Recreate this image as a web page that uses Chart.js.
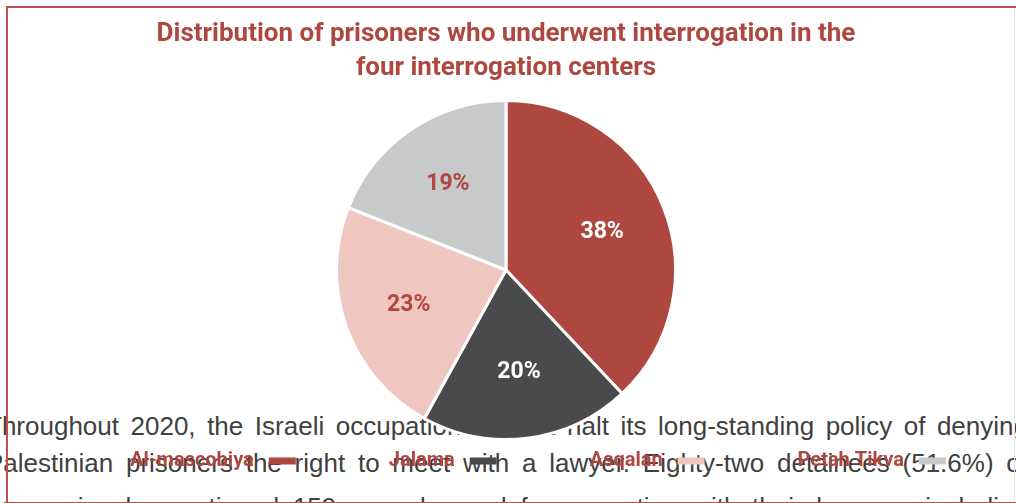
<!DOCTYPE html>
<html>
<head>
<meta charset="utf-8">
<script src="https://cdn.jsdelivr.net/npm/chart.js@4"></script>
<style>
  html, body { margin: 0; padding: 0; background: #ffffff; width: 1016px; height: 503px; overflow: hidden; }
  #wrap { position: relative; width: 1016px; height: 503px; overflow: hidden; }
  .line {
    position: absolute; left: -14px; width: 1042px;
    font-family: "Liberation Sans", Arial, sans-serif; font-size: 26px; line-height: 37px;
    color: #404040; text-align: justify; text-align-last: justify;
  }
  #chart { position: absolute; left: 0; top: 0; }
  #frame {
    position: absolute; left: 6px; top: 6px; width: 1020px; height: 494px;
    border-left: 2px solid #C0504D; border-top: 2px solid #C0504D; border-bottom: 2px solid #C0504D;
    pointer-events: none;
  }
  #edge { position: absolute; left: 1014px; top: 8px; width: 1px; height: 493px; background: #e2e2e2; }
</style>
</head>
<body>
<div id="wrap">
  <div class="line" style="top:408px">Throughout 2020, the Israeli occupation did not halt its long-standing policy of denying</div>
  <div class="line" style="top:445px">Palestinian prisoners the right to meet with a lawyer. Eighty-two detainees (51.6%) of</div>
  <div class="line" style="top:489px">as previously mentioned 159 were banned from meeting with their lawyers, including</div>
  <canvas id="chart" width="1016" height="503"></canvas>
  <div id="edge"></div>
  <div id="frame"></div>
</div>
<script>
// ---- data ----
const categories = ["Al-mascobiya", "Jalama", "Asqalan", "Petah Tikva"];
const shares = [38, 20, 23, 19];
const titleLines = ["Distribution of prisoners who underwent interrogation in the", "four interrogation centers"];

// ---- styles ----
const sliceColors = ["#AE4740", "#4A4A4C", "#F0C6C1", "#C8C9CB"];
const labelColors = ["#FFFFFF", "#FFFFFF", "#AE4740", "#AE4740"];
const accent = "#AE4740";

const sliceLabels = {
  id: 'sliceLabels',
  afterDatasetsDraw(chart) {
    const ctx = chart.ctx;
    const meta = chart.getDatasetMeta(0);
    const values = chart.data.datasets[0].data;
    const total = values.reduce((s, v) => s + v, 0);
    ctx.save();
    ctx.font = 'bold 23px Roboto, "DejaVu Sans", sans-serif';
    ctx.textAlign = 'center';
    ctx.textBaseline = 'middle';
    meta.data.forEach((arc, i) => {
      const p = arc.getProps(['x', 'y', 'startAngle', 'endAngle', 'outerRadius'], true);
      const a = (p.startAngle + p.endAngle) / 2;
      const r = p.outerRadius * 0.61;
      ctx.fillStyle = labelColors[i];
      ctx.fillText(Math.round(values[i] / total * 100) + '%', p.x + Math.cos(a) * r, p.y + Math.sin(a) * r);
    });
    ctx.restore();
  }
};

const bottomLegend = {
  id: 'bottomLegend',
  afterDraw(chart) {
    const ctx = chart.ctx;
    ctx.save();
    ctx.font = 'bold 20px Roboto, "DejaVu Sans", sans-serif';
    ctx.textBaseline = 'middle';
    ctx.textAlign = 'left';
    let x = 130;
    const y = chart.chartArea.bottom + 20;
    chart.data.labels.forEach((lab, i) => {
      ctx.fillStyle = accent;
      ctx.fillText(lab, x, y);
      x += ctx.measureText(lab).width + 15;
      ctx.fillStyle = chart.data.datasets[0].backgroundColor[i];
      ctx.fillRect(x, y - 3.5, 27, 7);
      x += 27 + 93;
    });
    ctx.restore();
  }
};

new Chart(document.getElementById('chart'), {
  type: 'pie',
  data: {
    labels: categories,
    datasets: [{
      data: shares,
      backgroundColor: sliceColors,
      borderColor: '#ffffff',
      borderWidth: 3
    }]
  },
  options: {
    responsive: false,
    animation: false,
    devicePixelRatio: 1,
    layout: { padding: { left: 0, right: 4, top: 0, bottom: 62 } },
    plugins: {
      legend: { display: false },
      tooltip: { enabled: false },
      title: {
        display: true,
        text: titleLines,
        color: accent,
        font: { family: '"Liberation Sans Narrow", Roboto, sans-serif', weight: 'bold', size: 26, lineHeight: 34 / 26 },
        padding: { top: 17, bottom: 14 }
      }
    }
  },
  plugins: [sliceLabels, bottomLegend]
});
</script>
</body>
</html>
